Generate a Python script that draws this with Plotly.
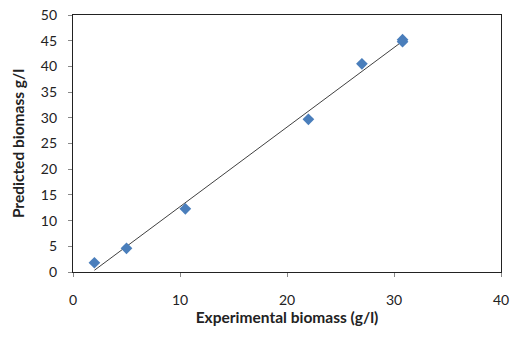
import numpy as np
import plotly.graph_objects as go

experimental = [2.0, 5.0, 10.5, 22.0, 27.0, 30.8, 30.8]
predicted = [1.8, 4.6, 12.3, 29.7, 40.5, 45.2, 44.8]

x_ticks = [0, 10, 20, 30, 40]
y_ticks = [0, 5, 10, 15, 20, 25, 30, 35, 40, 45, 50]

slope, intercept = np.polyfit(experimental, predicted, 1)
trend_x = [min(experimental), max(experimental)]
trend_y = [slope * v + intercept for v in trend_x]

fig = go.Figure()
fig.add_trace(go.Scatter(x=trend_x, y=trend_y, mode="lines",
                         line=dict(color="#404040", width=1), showlegend=False))
fig.add_trace(go.Scatter(x=experimental, y=predicted, mode="markers",
                         marker=dict(symbol="diamond", size=9, color="#4a7ebb"),
                         showlegend=False))

font = "Lato, Open Sans, sans-serif"
fig.update_layout(
    width=512, height=345,
    margin=dict(l=73, r=11, t=15, b=73, autoexpand=False),
    paper_bgcolor="white", plot_bgcolor="white",
    font=dict(family=font, color="#222", size=13),
    xaxis=dict(range=[0, 40], tickvals=x_ticks, showgrid=False, zeroline=False,
               showline=True, linecolor="#222", linewidth=1.2, mirror=True,
               ticks="outside", ticklen=4, tickcolor="#888",
               tickfont=dict(size=14), ticklabelstandoff=11, automargin=False,
               title=dict(text="<b>Experimental biomass (g/l)</b>", font=dict(size=15.5), standoff=5)),
    yaxis=dict(range=[0, 50], tickvals=y_ticks, showgrid=False, zeroline=False,
               showline=True, linecolor="#222", linewidth=1.2, mirror=True,
               ticks="outside", ticklen=4, tickcolor="#888",
               tickfont=dict(size=14), ticklabelstandoff=8, automargin=False,
               title=dict(text="<b>Predicted biomass g/l</b>", font=dict(size=15.5), standoff=12)),
)
fig.write_html("out.html")
